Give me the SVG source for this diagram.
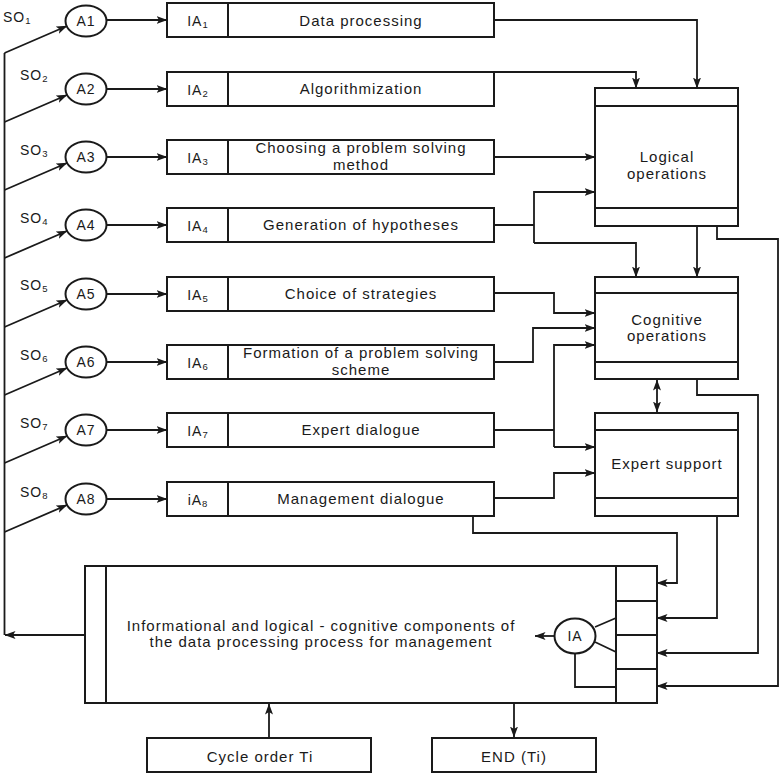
<svg xmlns="http://www.w3.org/2000/svg" width="782" height="775" viewBox="0 0 782 775">
<defs>
<marker id="ah" markerUnits="userSpaceOnUse" markerWidth="11" markerHeight="8" refX="10.5" refY="4" orient="auto-start-reverse">
<path d="M0,0 L11,4 L0,8 L2.5,4 z" fill="#1a1a1a"/>
</marker>
</defs>
<style>
.b{fill:#fff;stroke:#1a1a1a;stroke-width:2}
.l{fill:none;stroke:#1a1a1a;stroke-width:2}
.c{fill:none;stroke:#1a1a1a;stroke-width:1.8}
.a{marker-end:url(#ah)}
text{font-family:"Liberation Sans",Arial,sans-serif;fill:#1a1a1a;letter-spacing:1px}
.t{font-size:15px;text-anchor:middle}
.s{font-size:14px}
.m{text-anchor:middle}
.sub{font-size:9.5px}
</style>
<rect width="782" height="775" fill="#fff"/>

<g id="labels-so">
<text class="s" x="3" y="22">SO<tspan class="sub" dy="2">1</tspan></text>
<text class="s" x="20" y="80">SO<tspan class="sub" dy="2">2</tspan></text>
<text class="s" x="20" y="155">SO<tspan class="sub" dy="2">3</tspan></text>
<text class="s" x="20" y="223">SO<tspan class="sub" dy="2">4</tspan></text>
<text class="s" x="20" y="290">SO<tspan class="sub" dy="2">5</tspan></text>
<text class="s" x="20" y="360">SO<tspan class="sub" dy="2">6</tspan></text>
<text class="s" x="20" y="428">SO<tspan class="sub" dy="2">7</tspan></text>
<text class="s" x="20" y="497">SO<tspan class="sub" dy="2">8</tspan></text>
</g>

<g id="A1"><ellipse class="b" cx="86" cy="21" rx="20.5" ry="15.5"/><text class="s m" x="86" y="26">A1</text></g>
<g id="A2"><ellipse class="b" cx="86" cy="89" rx="20.5" ry="15.5"/><text class="s m" x="86" y="94">A2</text></g>
<g id="A3"><ellipse class="b" cx="86" cy="157" rx="20.5" ry="15.5"/><text class="s m" x="86" y="162">A3</text></g>
<g id="A4"><ellipse class="b" cx="86" cy="225" rx="20.5" ry="15.5"/><text class="s m" x="86" y="230">A4</text></g>
<g id="A5"><ellipse class="b" cx="86" cy="294" rx="20.5" ry="15.5"/><text class="s m" x="86" y="299">A5</text></g>
<g id="A6"><ellipse class="b" cx="86" cy="362" rx="20.5" ry="15.5"/><text class="s m" x="86" y="367">A6</text></g>
<g id="A7"><ellipse class="b" cx="86" cy="430" rx="20.5" ry="15.5"/><text class="s m" x="86" y="435">A7</text></g>
<g id="A8"><ellipse class="b" cx="86" cy="499" rx="20.5" ry="15.5"/><text class="s m" x="86" y="504">A8</text></g>

<g id="IA1"><rect class="b" x="167" y="3" width="327" height="34"/><path class="l" d="M228,3 V37"/><text class="s m" x="198" y="26">IA<tspan class="sub" dy="2">1</tspan></text><text class="t" x="361" y="26">Data processing</text></g>
<g id="IA2"><rect class="b" x="167" y="72" width="327" height="34"/><path class="l" d="M228,72 V106"/><text class="s m" x="198" y="95">IA<tspan class="sub" dy="2">2</tspan></text><text class="t" x="361" y="94">Algorithmization</text></g>
<g id="IA3"><rect class="b" x="167" y="140" width="327" height="34"/><path class="l" d="M228,140 V174"/><text class="s m" x="198" y="163">IA<tspan class="sub" dy="2">3</tspan></text><text class="t" x="361" y="153">Choosing a problem solving</text><text class="t" x="361" y="170">method</text></g>
<g id="IA4"><rect class="b" x="167" y="208" width="327" height="34"/><path class="l" d="M228,208 V242"/><text class="s m" x="198" y="231">IA<tspan class="sub" dy="2">4</tspan></text><text class="t" x="361" y="230">Generation of hypotheses</text></g>
<g id="IA5"><rect class="b" x="167" y="277" width="327" height="34"/><path class="l" d="M228,277 V311"/><text class="s m" x="198" y="300">IA<tspan class="sub" dy="2">5</tspan></text><text class="t" x="361" y="299">Choice of strategies</text></g>
<g id="IA6"><rect class="b" x="167" y="345" width="327" height="34"/><path class="l" d="M228,345 V379"/><text class="s m" x="198" y="368">IA<tspan class="sub" dy="2">6</tspan></text><text class="t" x="361" y="358">Formation of a problem solving</text><text class="t" x="361" y="375">scheme</text></g>
<g id="IA7"><rect class="b" x="167" y="413" width="327" height="34"/><path class="l" d="M228,413 V447"/><text class="s m" x="198" y="436">IA<tspan class="sub" dy="2">7</tspan></text><text class="t" x="361" y="435">Expert dialogue</text></g>
<g id="IA8"><rect class="b" x="167" y="482" width="327" height="34"/><path class="l" d="M228,482 V516"/><text class="s m" x="198" y="505">iA<tspan class="sub" dy="2">8</tspan></text><text class="t" x="361" y="504">Management dialogue</text></g>

<g id="logical"><rect class="b" x="595" y="88" width="143" height="138"/><path class="l" d="M595,106 H738 M595,208 H738"/><text class="t" x="667" y="162">Logical</text><text class="t" x="667" y="179">operations</text></g>
<g id="cognitive"><rect class="b" x="595" y="277" width="143" height="102"/><path class="l" d="M595,293 H738 M595,362 H738"/><text class="t" x="667" y="325">Cognitive</text><text class="t" x="667" y="341">operations</text></g>
<g id="expert"><rect class="b" x="595" y="413" width="143" height="103"/><path class="l" d="M595,430 H738 M595,498 H738"/><text class="t" x="667" y="469">Expert support</text></g>

<g id="components"><rect class="b" x="85" y="566" width="572" height="137"/><path class="l" d="M106,566 V703 M616,566 V703 M616,601 H657 M616,635 H657 M616,669 H657"/><text class="t" x="321" y="631">Informational and logical - cognitive components of</text><text class="t" x="321" y="647">the data processing process for management</text></g>
<g id="IA"><ellipse class="b" cx="575" cy="636" rx="20.5" ry="17.5"/><text class="s m" x="575" y="641">IA</text></g>
<g id="cycle"><rect class="b" x="147" y="738" width="224" height="34"/><text class="t" x="260" y="762">Cycle order Ti</text></g>
<g id="end"><rect class="b" x="432" y="738" width="164" height="34"/><text class="t" x="514" y="762">END (Ti)</text></g>

<g id="connectors">
<path class="c" d="M4.5,53 V635"/>
<path class="c a" d="M85,635 H5"/>
<path class="c a" d="M4.5,53 L67,26"/>
<path class="c a" d="M4.5,122 L67,95"/>
<path class="c a" d="M4.5,190 L67,163"/>
<path class="c a" d="M4.5,258 L67,231"/>
<path class="c a" d="M4.5,327 L67,300"/>
<path class="c a" d="M4.5,395 L67,368"/>
<path class="c a" d="M4.5,463 L67,436"/>
<path class="c a" d="M4.5,532 L67,505"/>
<path class="c a" d="M106.5,20 H167"/>
<path class="c a" d="M106.5,89 H167"/>
<path class="c a" d="M106.5,157 H167"/>
<path class="c a" d="M106.5,225 H167"/>
<path class="c a" d="M106.5,294 H167"/>
<path class="c a" d="M106.5,362 H167"/>
<path class="c a" d="M106.5,430 H167"/>
<path class="c a" d="M106.5,499 H167"/>
<path class="c a" d="M494,20 H697 V88"/>
<path class="c a" d="M494,72 H636 V88"/>
<path class="c a" d="M494,157 H595"/>
<path class="c" d="M494,225 H534"/>
<path class="c a" d="M534,243 V192 H595"/>
<path class="c a" d="M534,243 H636 V277"/>
<path class="c a" d="M697,226 V277"/>
<path class="c a" d="M717,226 V239 H778 V686 H657"/>
<path class="c a" d="M494,293 H554 V313 H595"/>
<path class="c a" d="M494,362 H533 V328 H595"/>
<path class="c" d="M494,430 H554"/>
<path class="c a" d="M554,447 V345 H595"/>
<path class="c a" d="M554,447 H595"/>
<path class="c a" d="M494,498 H554 V473 H595"/>
<path class="c a" d="M473,516 V533 H677 V583 H657"/>
<path class="c a" d="M717,516 V618 H657"/>
<path class="c a" d="M697,379 V395 H758 V653 H657"/>
<path class="c" d="M657,380 V412" marker-start="url(#ah)" marker-end="url(#ah)"/>
<path class="c a" d="M554,636 H535"/>
<path class="c" d="M595,627 L616,618 M595,642 L616,652 M575,653 V687 H616"/>
<path class="c a" d="M269,738 V704"/>
<path class="c a" d="M514,703 V737"/>
</g>
</svg>
